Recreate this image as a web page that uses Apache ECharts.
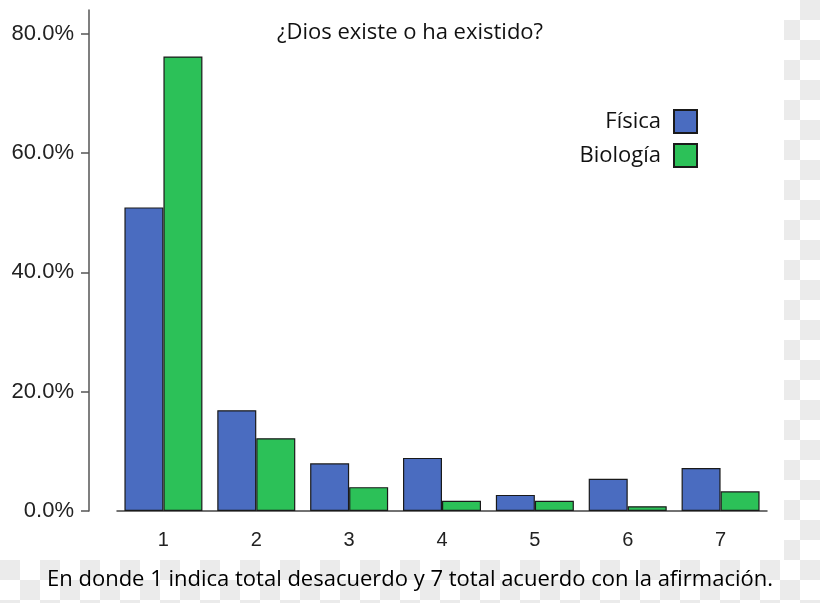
<!DOCTYPE html>
<html>
<head>
<meta charset="utf-8">
<script src="https://cdn.jsdelivr.net/npm/echarts@6/dist/echarts.min.js"></script>
<style>html,body{margin:0;padding:0;background:#fff}#c{width:820px;height:603px}</style>
</head>
<body>
<div id="c"></div>
<script>
const categories = ['1', '2', '3', '4', '5', '6', '7'];
const fisica = [50.9, 16.9, 8.0, 8.9, 2.7, 5.4, 7.2];
const biologia = [76.2, 12.2, 4.0, 1.7, 1.7, 0.8, 3.3];
const yTicks = [0, 20, 40, 60, 80];
const titleText = '¿Dios existe o ha existido?';
const footerText = 'En donde 1 indica total desacuerdo y 7 total acuerdo con la afirmación.';

// checker pattern for the transparent-looking strips
const pc = document.createElement('canvas');
pc.width = 40; pc.height = 40;
const g = pc.getContext('2d');
g.fillStyle = '#ffffff'; g.fillRect(0, 0, 40, 40);
g.fillStyle = '#ebebeb'; g.fillRect(0, 0, 20, 20); g.fillRect(20, 20, 20, 20);

const chart = echarts.init(document.getElementById('c'), null, {renderer: 'canvas'});
chart.setOption({
  backgroundColor: '#ffffff',
  animation: false,
  graphic: [
    {type: 'rect', z: -10, shape: {x: 784, y: 0, width: 36, height: 603}, style: {fill: {image: pc, repeat: 'repeat'}}},
    {type: 'rect', z: -10, shape: {x: 0, y: 560, width: 820, height: 43}, style: {fill: {image: pc, repeat: 'repeat'}}},
    {type: 'text', left: 'center', top: 569, style: {text: footerText, font: '22px "Open Sans"', fill: '#000'}}
  ],
  title: {
    text: titleText,
    left: 405, top: 17, textAlign: 'center',
    textStyle: {fontFamily: 'Open Sans', fontSize: 22, fontWeight: 'normal', color: '#111'}
  },
  legend: {
    orient: 'vertical', right: 122, top: 109, align: 'right', padding: 0,
    itemWidth: 23, itemHeight: 23, itemGap: 9,
    icon: 'rect',
    textStyle: {fontFamily: 'Open Sans', fontSize: 22, lineHeight: 23, color: '#111', padding: [0, 8, 0, 0]},
    data: ['Física', 'Biología']
  },
  grid: {left: 117, right: 53, top: 10, bottom: 92},
  xAxis: {
    type: 'category', data: categories,
    axisLine: {lineStyle: {color: '#444', width: 1.5}},
    axisTick: {alignWithLabel: true, length: 9, lineStyle: {color: '#222', width: 1.5}},
    axisLabel: {margin: 19, fontFamily: 'Liberation Sans', fontSize: 20, color: '#222'}
  },
  yAxis: {
    type: 'value', min: 0, max: 84, interval: 20, offset: 28,
    splitLine: {show: false},
    axisLine: {show: true, lineStyle: {color: '#555', width: 1.5}},
    axisTick: {show: true, length: 8, customValues: yTicks, lineStyle: {color: '#555', width: 1.5}},
    axisLabel: {customValues: yTicks, margin: 15, fontFamily: 'Liberation Sans', fontSize: 22, color: '#222',
      formatter: v => v.toFixed(1) + '%'}
  },
  series: [
    {name: 'Física', type: 'bar', data: fisica, barGap: '0%', barCategoryGap: '16%',
      itemStyle: {color: '#4a6cc0', borderColor: '#1a1a1a', borderWidth: 1.2}},
    {name: 'Biología', type: 'bar', data: biologia,
      itemStyle: {color: '#2cc158', borderColor: '#1a1a1a', borderWidth: 1.2}}
  ]
});
</script>
</body>
</html>
